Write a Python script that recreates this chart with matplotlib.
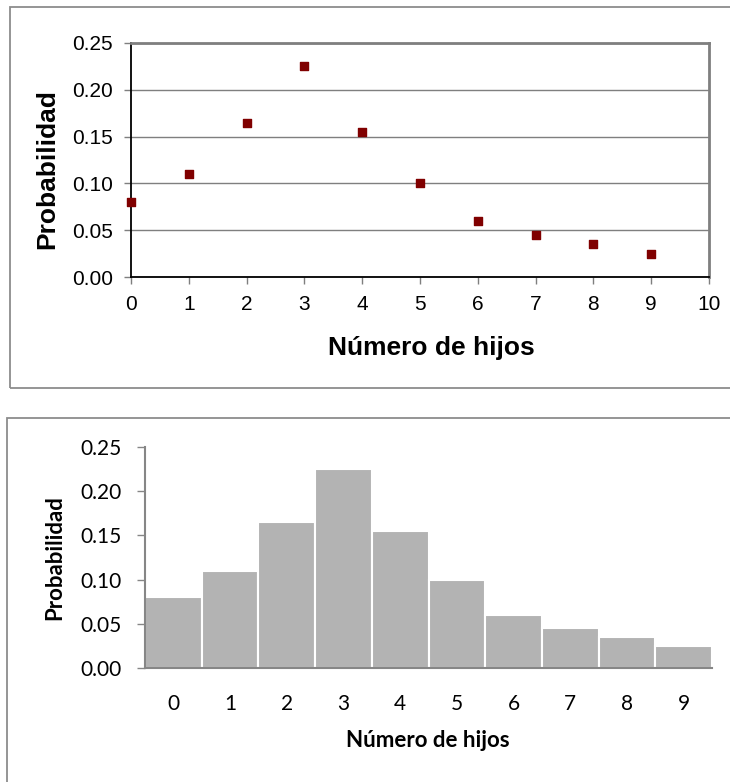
import matplotlib
matplotlib.use("Agg")
import matplotlib.pyplot as plt
from matplotlib.patches import Rectangle
from matplotlib.ticker import FormatStrFormatter

# data
hijos = [0, 1, 2, 3, 4, 5, 6, 7, 8, 9]
prob = [0.08, 0.11, 0.165, 0.225, 0.155, 0.10, 0.06, 0.045, 0.035, 0.025]
y_ticks = [0.00, 0.05, 0.10, 0.15, 0.20, 0.25]
x_ticks_top = list(range(11))

W, H = 730, 782
fig = plt.figure(figsize=(W / 100, H / 100), dpi=100)


def fx(px):
    return px / W


def fy(py):
    return 1 - py / H


BORDER = "#8c8c8c"
# outer chart-area frames (right side runs off the image like the source)
fig.add_artist(Rectangle((fx(10), fy(388)), fx(760) - fx(10), fy(7) - fy(388),
                         transform=fig.transFigure, fill=False,
                         ec=BORDER, lw=1.3))
fig.add_artist(Rectangle((fx(7), fy(800)), fx(760) - fx(7), fy(418) - fy(800),
                         transform=fig.transFigure, fill=False,
                         ec=BORDER, lw=1.3))

# ---- top: scatter (Arial-like) ----
ARIAL = "Liberation Sans"
ax = fig.add_axes([fx(131), fy(277), fx(709) - fx(131), fy(43) - fy(277)])
ax.scatter(hijos, prob, marker="s", s=28, color="#800000", zorder=3,
           clip_on=False)
ax.set_xlim(0, 10)
ax.set_ylim(0, 0.25)
ax.set_xticks(x_ticks_top)
ax.set_yticks(y_ticks)
ax.yaxis.set_major_formatter(FormatStrFormatter("%.2f"))
ax.grid(axis="y", color="#7f7f7f", lw=1.0)
ax.set_axisbelow(True)
for s in ("left", "bottom"):
    ax.spines[s].set_color("black")
    ax.spines[s].set_linewidth(1.3)
for s in ("top", "right"):
    ax.spines[s].set_color("#7f7f7f")
    ax.spines[s].set_linewidth(2.0)
ax.tick_params(direction="out", length=5, width=1, color="#7f7f7f",
               labelsize=15, pad=8)
for lab in ax.get_xticklabels() + ax.get_yticklabels():
    lab.set_family(ARIAL)
ax.text(-0.145, 0.46, "Probabilidad", transform=ax.transAxes, rotation=90,
        ha="center", va="center", fontsize=19, fontweight="bold",
        family=ARIAL)
ax.text(0.52, -0.303, "Número de hijos", transform=ax.transAxes,
        ha="center", va="center", fontsize=19, fontweight="bold",
        family=ARIAL)

# ---- bottom: histogram-style bars (Calibri-like) ----
CAL = "Lato"
bx = fig.add_axes([fx(145), fy(668), fx(712) - fx(145), fy(447) - fy(668)])
bx.bar(hijos, prob, width=1.0, color="#b3b3b3", edgecolor="white",
       linewidth=1.5, zorder=2)
bx.set_xlim(-0.5, 9.5)
bx.set_ylim(0, 0.25)
bx.set_xticks(hijos)
bx.set_yticks(y_ticks)
bx.yaxis.set_major_formatter(FormatStrFormatter("%.2f"))
for s in ("top", "right"):
    bx.spines[s].set_visible(False)
for s in ("left", "bottom"):
    bx.spines[s].set_color("#868686")
    bx.spines[s].set_linewidth(1.5)
bx.spines["bottom"].set_zorder(3)
bx.tick_params(axis="y", direction="out", length=6, width=1,
               color="#868686", labelsize=15, pad=11)
bx.tick_params(axis="x", length=0, labelsize=15, pad=19)
for lab in bx.get_xticklabels() + bx.get_yticklabels():
    lab.set_family(CAL)
bx.text(-0.159, 0.5, "Probabilidad", transform=bx.transAxes, rotation=90,
        ha="center", va="center", fontsize=16, fontweight="bold", family=CAL)
bx.text(0.499, -0.326, "Número de hijos", transform=bx.transAxes,
        ha="center", va="center", fontsize=16, fontweight="bold", family=CAL)

fig.savefig("out.png", dpi=100, facecolor="white")
